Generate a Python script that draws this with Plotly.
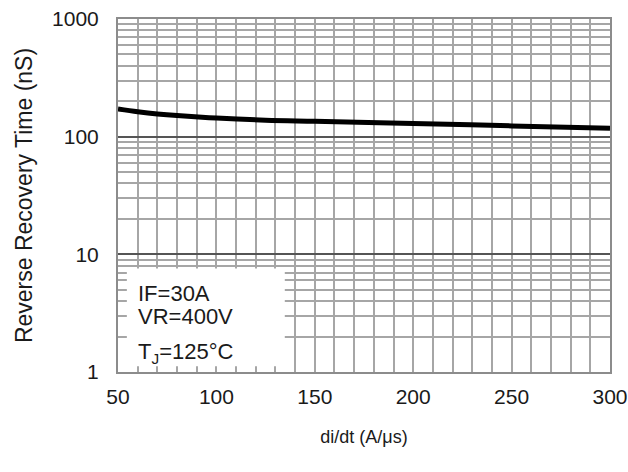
import plotly.graph_objects as go

# data
di_dt = [50, 60, 70, 80, 100, 125, 150, 200, 250, 300]
trr_ns = [172, 163, 156, 151, 144, 138, 135, 129.5, 123.5, 118]

x_tickvals = [50, 100, 150, 200, 250, 300]
x_ticktext = ["50", "100", "150", "200", "250", "300"]
y_tickvals = [1, 10, 100, 1000]
y_ticktext = ["1", "10", "100", "1000"]

conditions = ["IF=30A", "VR=400V", "T<sub>J</sub>=125°C"]
cond_y = [0.223, 0.158, 0.053]

FONT = "Liberation Sans, Arial, sans-serif"
MINOR_GRID = "#a6a6a6"
MAJOR_GRID = "#555555"
TXT = "#1a1a1a"

fig = go.Figure()
fig.add_trace(go.Scatter(
    x=di_dt, y=trr_ns, mode="lines",
    line=dict(color="black", width=5, shape="spline"),
    showlegend=False, hoverinfo="skip",
))

fig.update_layout(
    width=628, height=472,
    margin=dict(l=118, r=18, t=19, b=100, autoexpand=False),
    paper_bgcolor="white", plot_bgcolor="white",
    font=dict(family=FONT, size=20, color=TXT),
    showlegend=False,
)

fig.update_xaxes(
    range=[50, 300], automargin=False,
    tickvals=x_tickvals, ticktext=x_ticktext,
    ticks="outside", ticklen=5, tickcolor="rgba(0,0,0,0)",
    tickfont=dict(size=21, family=FONT, color=TXT),
    ticklabeloverflow="allow",
    showgrid=True, gridcolor=MINOR_GRID, gridwidth=2,
    minor=dict(dtick=10, showgrid=True, gridcolor=MINOR_GRID, gridwidth=2, ticks=""),
    showline=True, linecolor="#8c8c8c", linewidth=2, mirror=True,
    zeroline=False,
    title=dict(text="di/dt (A/μs)", font=dict(size=18, family=FONT, color=TXT), standoff=23),
)

fig.update_yaxes(
    type="log", range=[0, 3], automargin=False,
    tickvals=y_tickvals, ticktext=y_ticktext,
    ticks="outside", ticklen=13, tickcolor="rgba(0,0,0,0)",
    tickfont=dict(size=21, family=FONT, color=TXT),
    ticklabeloverflow="allow",
    showgrid=True, gridcolor=MAJOR_GRID, gridwidth=2,
    minor=dict(dtick="D1", showgrid=True, gridcolor=MINOR_GRID, gridwidth=2, ticks=""),
    showline=True, linecolor="#8c8c8c", linewidth=2, mirror=True,
    zeroline=False,
    title=dict(text="Reverse Recovery Time (nS)", font=dict(size=23, family=FONT, color=TXT), standoff=13),
)

# white box hiding the grid behind the test conditions
fig.add_shape(type="rect", xref="paper", yref="paper",
              x0=0.018, x1=0.339, y0=0.016, y1=0.293,
              fillcolor="white", line=dict(width=0), layer="above")

for txt, yy in zip(conditions, cond_y):
    fig.add_annotation(text=txt, xref="paper", yref="paper", x=0.036, y=yy,
                       xanchor="left", yanchor="middle", showarrow=False,
                       font=dict(size=22, family=FONT, color=TXT))

# remove the default 8px page margin so the figure fills the window exactly
fig.write_html("out.html", config={"displayModeBar": False},
               post_script="document.body.style.margin='0';")
